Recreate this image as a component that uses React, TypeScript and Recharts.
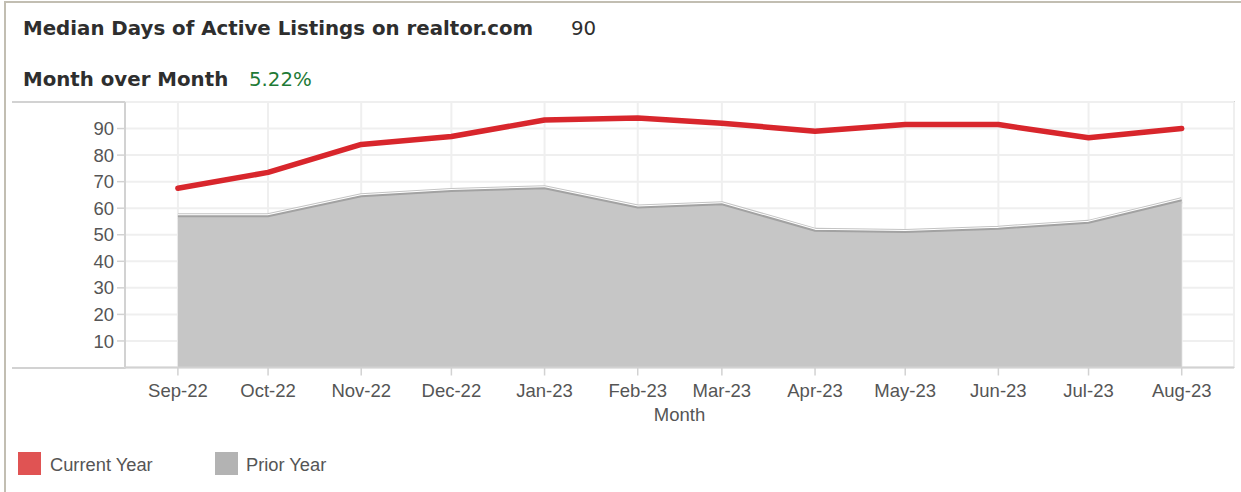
import React from 'react';
import { ComposedChart, Area, Line, XAxis, YAxis, CartesianGrid } from 'recharts';

// month starts (time axis, spacing follows the calendar)
const monthDates = [
  '2022-09-01', '2022-10-01', '2022-11-01', '2022-12-01', '2023-01-01', '2023-02-01',
  '2023-03-01', '2023-04-01', '2023-05-01', '2023-06-01', '2023-07-01', '2023-08-01',
];
const monthLabels = [
  'Sep-22', 'Oct-22', 'Nov-22', 'Dec-22', 'Jan-23', 'Feb-23',
  'Mar-23', 'Apr-23', 'May-23', 'Jun-23', 'Jul-23', 'Aug-23',
];
const currentYear = [67.5, 73.5, 84, 87, 93.2, 94, 92, 89, 91.5, 91.5, 86.5, 90];
const priorYear = [57, 57, 64.5, 66.5, 67.5, 60.3, 61.5, 51.5, 51, 52.3, 54.5, 63];
const yTicks = [10, 20, 30, 40, 50, 60, 70, 80, 90];

const DAY = 24 * 3600 * 1000;
const times = monthDates.map(d => Date.parse(d + 'T00:00:00Z'));
const data = times.map((t, i) => ({ t, cur: currentYear[i], prior: priorYear[i] }));

const labelFor = (t: number) => {
  const i = times.indexOf(t);
  return i >= 0 ? monthLabels[i] : '';
};

const AXIS = '#d2d2d2';
const TEXT = '#555555';
const SANS = 'Liberation Sans, Arial, sans-serif';
const tickFont = { fill: TEXT, fontSize: 18.5, fontFamily: SANS };
const header = { position: 'absolute' as const, fontFamily: 'DejaVu Sans, sans-serif', fontSize: 19.8, color: '#2e2e2e', whiteSpace: 'nowrap' as const, lineHeight: 'normal' };
const legendText = { position: 'absolute' as const, top: 453.5, fontFamily: SANS, fontSize: 18.3, color: TEXT, whiteSpace: 'nowrap' as const, lineHeight: 'normal' };

export default function App() {
  return (
    <div style={{ position: 'absolute', left: 0, top: 0, width: 1241, height: 492, background: '#fff', overflow: 'hidden' }}>
      {/* outer frame */}
      <div style={{ position: 'absolute', left: 4, top: 1, right: -10, bottom: -10, borderLeft: '2px solid #c2beb2', borderTop: '2px solid #c2beb2' }} />

      {/* header */}
      <div style={{ ...header, left: 23, top: 16.5, fontWeight: 'bold' }}>Median Days of Active Listings on realtor.com</div>
      <div style={{ ...header, left: 571, top: 16.5 }}>90</div>
      <div style={{ ...header, left: 23, top: 67.5, fontWeight: 'bold' }}>Month over Month</div>
      <div style={{ ...header, left: 249, top: 67.5, color: '#1e7a36' }}>5.22%</div>

      {/* frame lines of the plot box */}
      <div style={{ position: 'absolute', left: 12, top: 101, width: 1222, height: 2, background: AXIS }} />
      <div style={{ position: 'absolute', left: 1233, top: 101, width: 2, height: 267, background: AXIS }} />
      <div style={{ position: 'absolute', left: 12, top: 366.5, width: 114, height: 2, background: AXIS }} />

      <div style={{ position: 'absolute', left: 0, top: 0 }}>
        <ComposedChart
          width={1241}
          height={492}
          data={data}
          margin={{ top: 102, right: 7, left: 12, bottom: 64.5 }}
        >
          <CartesianGrid stroke="#efefef" strokeWidth={2} />
          <XAxis
            dataKey="t"
            type="number"
            scale="time"
            domain={[times[0] - 17.6 * DAY, times[times.length - 1] + 17.4 * DAY]}
            ticks={times}
            interval={0}
            tickFormatter={labelFor}
            tick={tickFont}
            tickSize={8}
            tickMargin={8}
            tickLine={{ stroke: AXIS, strokeWidth: 1.5 }}
            axisLine={{ stroke: AXIS, strokeWidth: 2 }}
            height={60}
            label={{ value: 'Month', position: 'insideBottom', offset: 6.5, fill: TEXT, fontSize: 18.5, fontFamily: SANS }}
          />
          <YAxis
            type="number"
            domain={[0, 100]}
            ticks={yTicks}
            interval={0}
            width={113}
            tick={tickFont}
            tickSize={8}
            tickMargin={3}
            tickLine={{ stroke: AXIS, strokeWidth: 1.5 }}
            axisLine={{ stroke: AXIS, strokeWidth: 2 }}
          />
          {/* outline layers of the prior-year area */}
          <Area dataKey="prior" type="linear" stroke="#c4c4c4" strokeWidth={6} fill="none" isAnimationActive={false} dot={false} activeDot={false} />
          <Area dataKey="prior" type="linear" stroke="#ffffff" strokeWidth={4} fill="none" isAnimationActive={false} dot={false} activeDot={false} />
          <Area dataKey="prior" type="linear" stroke="#a2a2a2" strokeWidth={2} fill="#c6c6c6" fillOpacity={1} isAnimationActive={false} dot={false} activeDot={false} />
          <Line dataKey="cur" type="linear" stroke="#d8262c" strokeWidth={5.5} strokeLinecap="round" strokeLinejoin="round" dot={false} activeDot={false} isAnimationActive={false} />
        </ComposedChart>
      </div>

      {/* legend */}
      <div style={{ position: 'absolute', left: 18, top: 452, width: 23, height: 23, background: '#e05353' }} />
      <div style={{ ...legendText, left: 50 }}>Current Year</div>
      <div style={{ position: 'absolute', left: 215, top: 452, width: 23, height: 23, background: '#b3b3b3' }} />
      <div style={{ ...legendText, left: 246 }}>Prior Year</div>
    </div>
  );
}
